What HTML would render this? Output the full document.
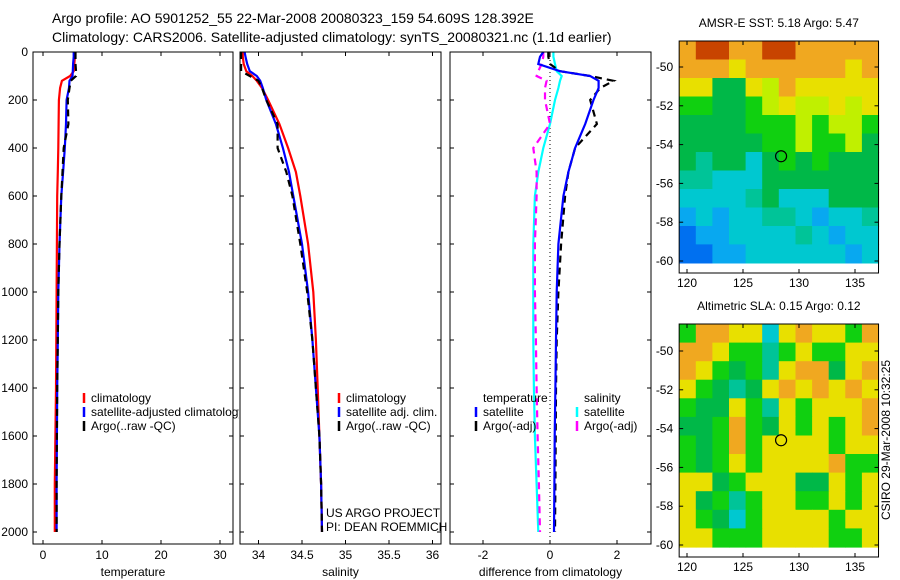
<!DOCTYPE html>
<html><head><meta charset="utf-8">
<style>
body{margin:0;background:#fff;}
svg{display:block;font-family:"Liberation Sans",sans-serif;}
text{fill:#000;}
</style></head>
<body>
<svg id="fig" width="900" height="580" viewBox="0 0 900 580">
<text x="52" y="23" font-size="14">Argo profile: AO 5901252_55 22-Mar-2008 20080323_159 54.609S 128.392E</text>
<text x="52" y="42" font-size="14">Climatology: CARS2006. Satellite-adjusted climatology: synTS_20080321.nc (1.1d earlier)</text>
<g id="g"></g>
</svg>
<script>
// ---- profile data ----
const depths = [0,20,50,80,100,120,150,200,300,400,500,600,800,1000,1200,1400,1600,1800,2000];
const tempClim = [5.4,5.4,5.3,5.2,4.6,3.2,2.9,2.7,2.65,2.6,2.5,2.4,2.35,2.3,2.25,2.2,2.1,2.0,2.0];
const tempSat  = [5.2,5.2,5.1,5.05,5.0,4.5,4.4,4.0,3.9,3.7,3.4,3.1,2.8,2.6,2.5,2.4,2.35,2.3,2.3];
const tempArgo = [5.5,5.5,5.5,5.6,5.6,4.7,4.5,4.2,4.3,3.5,3.3,3.1,2.8,2.6,2.5,2.4,2.35,2.3,2.3];
const salClim = [33.82,33.82,33.83,33.86,33.93,33.98,34.04,34.11,34.24,34.34,34.43,34.48,34.57,34.63,34.66,34.68,34.70,34.72,34.73];
const salSat  = [33.84,33.85,33.87,33.90,33.98,34.02,34.05,34.09,34.20,34.28,34.35,34.40,34.50,34.57,34.62,34.66,34.70,34.72,34.73];
const salArgo = [33.80,33.80,33.80,33.80,33.90,34.00,34.04,34.09,34.22,34.22,34.32,34.39,34.48,34.56,34.62,34.66,34.70,34.72,34.73];
const dTempSat  = [-0.2,-0.3,-0.35,0.3,1.2,1.45,1.45,1.3,1.05,0.75,0.55,0.4,0.25,0.2,0.18,0.16,0.14,0.13,0.12];
const dTempArgo = [-0.05,-0.05,0.0,0.3,1.2,1.9,1.5,1.2,1.4,0.75,0.55,0.45,0.33,0.25,0.2,0.18,0.17,0.16,0.15];
const dSalSat   = [0.1,0.1,0.15,0.2,0.35,0.3,0.25,0.15,0.0,-0.2,-0.35,-0.45,-0.5,-0.5,-0.5,-0.48,-0.45,-0.4,-0.35];
const dSalArgo  = [-0.2,-0.2,-0.25,-0.35,-0.4,-0.1,-0.15,-0.15,0.0,-0.5,-0.4,-0.4,-0.45,-0.45,-0.42,-0.4,-0.37,-0.33,-0.3];
const depthTicks = [0,200,400,600,800,1000,1200,1400,1600,1800,2000];
const tempTicks = [0,10,20,30];
const salTicks = [34,34.5,35,35.5,36];
const diffTicks = [-2,0,2];
const latTicks = [-50,-52,-54,-56,-58,-60];
const lonTicks = [120,125,130,135];
// ---- map data (colour codes per cell, rows north->south) ----
const sstRows = [
"ORROORROOOOO","OOOYOOOOOOYO","YYggYLOYYYYY","GGggGLYLLYLY",
"ggggGGGLGLLG","gggggGGLGGLg","gTggCgGgGggg","TTCCCggggggg",
"CCCCTgCCCggg","BCBCCTTCBCCT","DBBCCCCTCBCC","DDBBCCCCCCBC"];
const slaRows = [
"GOOYYCYOYYGO","OOYGGTGYGGYY","OYGgGTYOOgYO","YGgTgYOYOYOY",
"GggYGTYGYYYO","ggGOGgYGYGYO","GgGOGYYYYGYY","GgGYGYYYYOGG",
"YYgGYYYggYGY","YgGTGYYGGYGY","YGgCGYYYYGYY","YYGGGYYYYGGY"];
const argoLon = 128.4, argoLat = -54.6;
const sstTitle = "AMSR-E SST: 5.18 Argo: 5.47";
const slaTitle = "Altimetric SLA: 0.15 Argo: 0.12";

const NS="http://www.w3.org/2000/svg";
const G=document.getElementById('g');
function mk(tag,attrs,parent){const e=document.createElementNS(NS,tag);for(const k in attrs)e.setAttribute(k,attrs[k]);(parent||G).appendChild(e);return e;}
function txt(x,y,s,size,anchor,parent){const t=mk('text',{x:x,y:y,'font-size':size||12,'text-anchor':anchor||'start'},parent);t.textContent=s;return t;}

const yTop=52, yPerM=0.24, yBot=544;
function yD(d){return yTop+d*yPerM;}
const panels=[
 {name:'temperature',x0:33,x1:233,v0:0,px0:43,scale:5.9,ticks:tempTicks,label:'temperature',series:[[tempClim,'#f00',''],[tempSat,'#00f',''],[tempArgo,'#000','7,5']]},
 {name:'salinity',x0:240,x1:441,v0:34,px0:258.5,scale:87,ticks:salTicks,label:'salinity',series:[[salClim,'#f00',''],[salSat,'#00f',''],[salArgo,'#000','7,5']]},
 {name:'difference',x0:450,x1:651,v0:0,px0:550,scale:33.5,ticks:diffTicks,label:'difference from climatology',series:[[dSalSat,'#0ff',''],[dSalArgo,'#f0f','7,5'],[dTempArgo,'#000','7,5'],[dTempSat,'#00f','']]}
];
panels.forEach((p,pi)=>{
  const grp=mk('g',{});
  
  
  const xs=v=>p.px0+(v-p.v0)*p.scale;
  mk('rect',{x:p.x0,y:yTop,width:p.x1-p.x0,height:yBot-yTop,fill:'#fff',stroke:'none'},grp);
  if(pi===2){mk('line',{x1:xs(0),x2:xs(0),y1:yTop,y2:yBot,stroke:'#000','stroke-width':1,'stroke-dasharray':'1,3'},grp);}
  p.series.forEach(s=>{
    const pts=s[0].map((v,i)=>xs(v).toFixed(1)+','+yD(depths[i]).toFixed(1)).join(' ');
    const pl=mk('polyline',{points:pts,fill:'none',stroke:s[1],'stroke-width':2.2,'stroke-dasharray':s[2]},grp);
    
    
  });
  mk('rect',{x:p.x0,y:yTop,width:p.x1-p.x0,height:yBot-yTop,fill:'none',stroke:'#000','stroke-width':1},grp);
  p.ticks.forEach(t=>{const x=xs(t);
    mk('line',{x1:x,x2:x,y1:yBot,y2:yBot-4,stroke:'#000'},grp);
    mk('line',{x1:x,x2:x,y1:yTop,y2:yTop+4,stroke:'#000'},grp);
    txt(x,559,String(t),12,'middle',grp);});
  depthTicks.forEach(d=>{const y=yD(d);
    mk('line',{x1:p.x0,x2:p.x0+4,y1:y,y2:y,stroke:'#000'},grp);
    mk('line',{x1:p.x1,x2:p.x1-4,y1:y,y2:y,stroke:'#000'},grp);
    if(pi===0)txt(28,y+4,String(d),12,'end',grp);});
  txt((p.x0+p.x1)/2,576,p.label,12,'middle',grp);
});
// legends
function leg(mx,y,color,label){mk('line',{x1:mx,x2:mx,y1:y-9,y2:y+1,stroke:color,'stroke-width':2.5});const t=txt(mx+7,y,label,12);}
const clip=mk('clipPath',{id:'c1'});mk('rect',{x:0,y:0,width:239,height:580},clip);
const lg1=mk('g',{'clip-path':'url(#c1)'});
[[ '#f00','climatology',402],['#00f','satellite-adjusted climatology',416],['#000','Argo(..raw -QC)',430]].forEach(a=>{mk('line',{x1:84,x2:84,y1:a[2]-9,y2:a[2]+1,stroke:a[0],'stroke-width':2.5},lg1);txt(91,a[2],a[1],12,'start',lg1);});
leg(339,402,'#f00','climatology');leg(339,416,'#00f','satellite adj. clim.');leg(339,430,'#000','Argo(..raw -QC)');
txt(483,402,'temperature',12);leg(476,416,'#00f','satellite');leg(476,430,'#000','Argo(-adj)');
txt(584,402,'salinity',12);leg(577,416,'#0ff','satellite');leg(577,430,'#f0f','Argo(-adj)');
txt(326,517,'US ARGO PROJECT',12);txt(326,531,'PI: DEAN ROEMMICH',12);

// maps
const colors={R:'#c84400',O:'#f0a820',Y:'#e8e000',L:'#c0f000',G:'#10d010',g:'#00b848',T:'#00c498',C:'#00c8d0',B:'#08a8f0',D:'#0070f0'};
const lon0=119.3,lon1=137.1,latImgBot=-60.1;
function drawMap(rows,mapTop,mapBot,latAt50,pxPerDeg,title,name){
  const mg=mk('g',{});
  
  
  const lx=lon=>687+(lon-120)*11.2;
  const ly=lat=>latAt50+(-50-lat)*pxPerDeg;
  const boxTop=mapTop, boxBot=mapBot;
  const nr=rows.length, nc=rows[0].length;
  const y0=boxTop, y1=ly(latImgBot);
  const x0=lx(lon0), x1=lx(lon1);
  const cw=(x1-x0)/nc, ch=(y1-y0)/nr;
  rows.forEach((r,ri)=>{for(let ci=0;ci<nc;ci++){
    mk('rect',{x:(x0+ci*cw).toFixed(1),y:(y0+ri*ch).toFixed(1),width:(cw+0.6).toFixed(1),height:(ch+0.6).toFixed(1),fill:colors[r[ci]]},mg);
  }});
  mk('rect',{x:x0,y:boxTop,width:x1-x0,height:boxBot-boxTop,fill:'none',stroke:'#000'},mg);
  lonTicks.forEach(l=>{const x=lx(l);mk('line',{x1:x,x2:x,y1:boxBot,y2:boxBot-4,stroke:'#000'},mg);mk('line',{x1:x,x2:x,y1:boxTop,y2:boxTop+4,stroke:'#000'},mg);txt(x,boxBot+14,String(l),12,'middle',mg);});
  latTicks.forEach(l=>{const y=ly(l);mk('line',{x1:x0,x2:x0+4,y1:y,y2:y,stroke:'#000'},mg);mk('line',{x1:x1,x2:x1-4,y1:y,y2:y,stroke:'#000'},mg);txt(x0-6,y+4,String(l),12,'end',mg);});
  const cc=mk('circle',{cx:lx(argoLon),cy:ly(argoLat),r:5.5,fill:'none',stroke:'#000','stroke-width':1.2},mg);
  
  
  txt((x0+x1)/2,mapTop-14,title,12,'middle',mg);
}
drawMap(sstRows,41,273,67,19.4,sstTitle,'sst-map');
drawMap(slaRows,324,557,351,19.4,slaTitle,'sla-map');
const rt=txt(0,0,'CSIRO 29-Mar-2008 10:32:25',12,'middle');
rt.setAttribute('transform','translate(890,440) rotate(-90)');


</script>
</body></html>
